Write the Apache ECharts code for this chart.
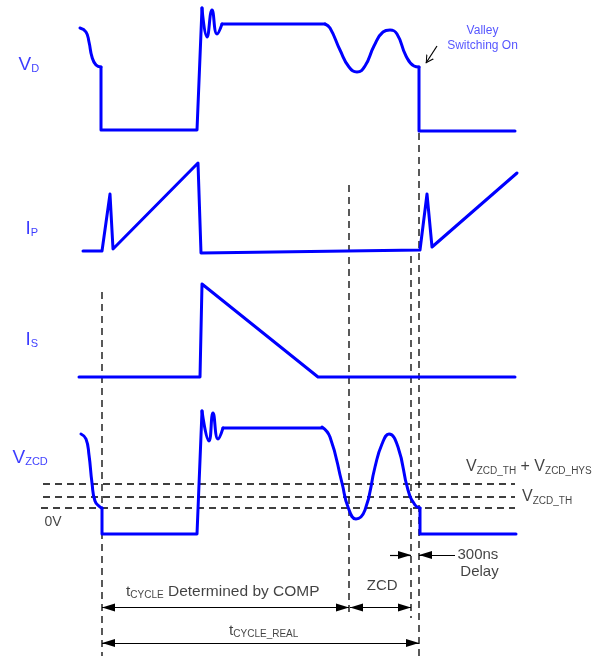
<!DOCTYPE html>
<html>
<head>
<meta charset="utf-8">
<script src="https://cdn.jsdelivr.net/npm/echarts@6/dist/echarts.min.js"></script>
<style>
html,body{margin:0;padding:0;background:#fff;}
#c{width:605px;height:656px;}
</style>
</head>
<body>
<div id="c"></div>
<script>
// ---- Waveform data (time in chart units, amplitude in chart units; y grows downward) ----
const vdFall1 = [[80,28],[86,32],[89,42],[92,57],[96,65],[101,67]];
const vdEdge1 = [[101,67],[101,130],[197,130],[202,8]];
const vdRing = [[202,8],[207,37],[212,10],[217,34],[222,24]];
const vdFlat = [[222,24],[325,24]];
const vdValley = [[325,24],[330,28],[340,50],[349,67],[357,72],[365,66],[374,46],[383,32],[390,30],[397,34],[406,56],[414,66],[419,67]];
const vdEdge2 = [[419,67],[419,131],[515,131]];

const ipWave = [[83,251],[102,251],[110,194],[113,249],[198,163],[201,253],[420,250],[427,194],[432,247],[517,173]];
const isWave = [[79,377],[200,377],[202,284],[318,377],[515,377]];

const vzFall1 = [[81,434],[86,439],[89,455],[92,483],[95,501],[100,507],[102,508]];
const vzEdge1 = [[102,508],[102,534],[197,534],[202,411]];
const vzRing = [[202,411],[209,441],[213,413],[218,439],[223,428]];
const vzFlat = [[223,428],[322,428]];
const vzValley = [[322,427],[330,437],[342,483],[348,507],[356,519],[365,510],[375,467],[382,444],[389,434],[398,447],[408,490],[415,505],[420,508]];
const vzEdge2 = [[420,508],[420,534],[516,534]];

// threshold levels (VZCD_TH + HYS, VZCD_TH, 0V)
const thresholdLevels = [484, 497, 508];
const thresholdStart = [43, 43, 41];
const thresholdEnd = 515;

// vertical timing guides: time, top, bottom
const guideTimes = [102, 349, 411, 419];
const guideTops = [292, 185, 256, 133];
const guideBottoms = [656, 617, 618, 656];

// dimension arrows
const dimArrows = [[102, 349, 607.5], [350, 411, 607.5], [102, 419, 643]];
const delayArrows = [[390, 411, 555], [455, 419, 555]];
const valleyArrow = [[437, 46], [426, 63]];

const BLUE = '#0000ff';
const LBLUE = '#0a0aff';
const TXT = '#111111';
const FONT = '"Liberation Sans", Arial, sans-serif';

function wave(data, smooth) {
  return {
    type: 'line', data: data, smooth: smooth ? 0.5 : false, showSymbol: false, silent: true,
    lineStyle: { color: BLUE, width: 3, cap: 'round', join: 'round' }, z: 5
  };
}
function dashed(data) {
  return {
    type: 'line', data: data, showSymbol: false, silent: true,
    lineStyle: { color: '#000000', width: 1.3, type: [7, 5] }, z: 2
  };
}

const series = [];
[vdFall1, vdRing, vdValley, vzFall1, vzRing, vzValley].forEach(d => series.push(wave(d, true)));
[vdEdge1, vdFlat, vdEdge2, ipWave, isWave, vzEdge1, vzFlat, vzEdge2].forEach(d => series.push(wave(d, false)));
thresholdLevels.forEach((y, i) => series.push(dashed([[thresholdStart[i], y], [thresholdEnd, y]])));
guideTimes.forEach((x, i) => series.push(dashed([[x, guideTops[i]], [x, guideBottoms[i]]])));

// arrows
const arrowData = [];
dimArrows.forEach(a => arrowData.push([{ coord: [a[0], a[2]], symbol: 'triangle' }, { coord: [a[1], a[2]], symbol: 'triangle' }]));
delayArrows.forEach(a => arrowData.push([{ coord: [a[0], a[2]], symbol: 'none' }, { coord: [a[1], a[2]], symbol: 'triangle' }]));
series.push({
  type: 'line', data: [], silent: true,
  markLine: {
    silent: true, animation: false,
    symbolSize: [8, 13], symbolOffset: [[0, 6.5], [0, 6.5]],
    label: { show: false },
    lineStyle: { color: '#000', width: 1.2, type: 'solid' },
    emphasis: { disabled: true },
    data: arrowData.concat([[
      { coord: valleyArrow[0], symbol: 'none' },
      { coord: valleyArrow[1], symbol: 'path://M0,10 L5,0 L10,10 L8.6,10 L5,2.4 L1.4,10 Z', symbolSize: [9, 8], symbolOffset: [0, 3.5] }
    ]])
  }
});

// text labels
const richMain = (fs, c) => ({ fontSize: fs, color: c, fontFamily: FONT });
const richSub = (fs, c, pt) => ({ fontSize: fs, color: c, fontFamily: FONT, padding: [pt, 0, 0, 0] });
function txt(x, y, formatter, rich, align) {
  return {
    value: [x, y],
    label: { show: true, position: [0, 0], align: align || 'left', verticalAlign: 'middle', formatter: formatter, rich: rich }
  };
}
const sigRich = { m: richMain(19, LBLUE), s: richSub(11, LBLUE, 9) };
const thRich = { m: richMain(16, TXT), s: richSub(10, TXT, 8) };
const tRich = { m: richMain(15.5, TXT), s: richSub(10, TXT, 7) };
const plainRich = { m: richMain(15, TXT), sm: richMain(14, TXT), v: { fontSize: 12, color: '#2b2bff', fontFamily: FONT, lineHeight: 15, align: 'center' } };

const labels = [
  txt(19, 65, '{m|V}{s|D}', sigRich),
  txt(26, 229, '{m|I}{s|P}', sigRich),
  txt(26, 340, '{m|I}{s|S}', sigRich),
  txt(13, 458, '{m|V}{s|ZCD}', sigRich),
  txt(483, 38.5, '{v|Valley}\n{v|Switching On}', plainRich, 'center'),
  txt(466.5, 467.5, '{m|V}{s|ZCD_TH}{m| + V}{s|ZCD_HYS}', thRich),
  txt(522.5, 497.5, '{m|V}{s|ZCD_TH}', thRich),
  txt(45, 523, '{sm|0V}', plainRich),
  txt(126.5, 592, '{m|t}{s|CYCLE}{m| Determined by COMP}', tRich),
  txt(382.7, 586.7, '{m|ZCD}', plainRich, 'center'),
  txt(229.5, 631, '{m|t}{s|CYCLE_REAL}', tRich),
  txt(458, 555, '{m|300ns}', plainRich),
  txt(480, 572, '{m|Delay}', plainRich, 'center')
];
series.push({
  type: 'scatter', data: labels, symbolSize: 1, silent: true,
  itemStyle: { color: 'rgba(0,0,0,0)' }, z: 10
});

const chart = echarts.init(document.getElementById('c'), null, { renderer: 'canvas' });
chart.setOption({
  animation: false,
  backgroundColor: '#ffffff',
  grid: { left: 0, right: 0, top: 0, bottom: 0 },
  xAxis: { type: 'value', min: 0, max: 605, show: false },
  yAxis: { type: 'value', min: 0, max: 656, inverse: true, show: false },
  tooltip: { show: false },
  series: series
});
</script>
</body>
</html>
